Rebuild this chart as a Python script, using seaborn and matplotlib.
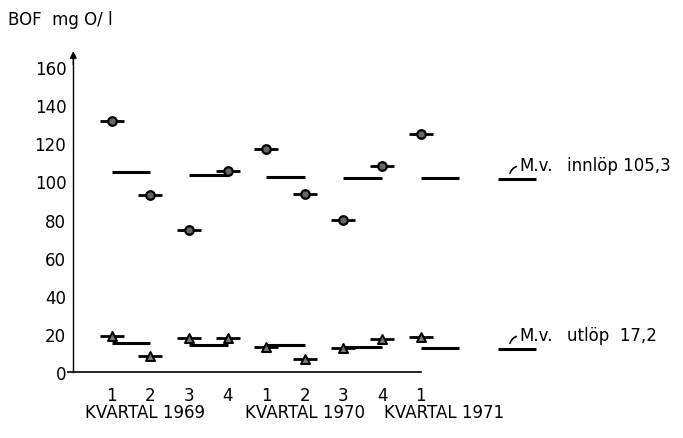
import matplotlib
matplotlib.use("Agg")
import matplotlib.pyplot as plt
import seaborn as sns
import pandas as pd

# quarter positions and labels
quarters = [1, 2, 3, 4, 5, 6, 7, 8, 9]
quarter_labels = ["1", "2", "3", "4", "1", "2", "3", "4", "1"]
year_labels = ["KVARTAL 1969", "KVARTAL 1970", "KVARTAL 1971"]
year_label_x = [0.3, 4.45, 8.05]

# BOF values per quarter (mg O/l)
inflow = [132, 93, 74.5, 105.5, 117, 93.5, 79.5, 108, 125]
outflow = [19, 8.5, 18, 18, 13, 6.5, 12.5, 17, 18.5]

# half-year mean segments (start quarter, value)
mean_start = [1, 3, 5, 7, 9]
inflow_mean = [104.8, 103.5, 102.5, 102.0, 101.7]
outflow_mean = [15.0, 14.2, 13.9, 13.1, 12.4]

# overall mean labels
legend_x = 11
inflow_legend_y = 101.3
outflow_legend_y = 12.0
inflow_text = "innlöp 105,3"
outflow_text = "utlöp  17,2"

df = pd.DataFrame({"q": quarters, "inflow": inflow, "outflow": outflow})

sns.set_style("white")
plt.rcParams["font.family"] = ["DejaVu Sans"]
plt.rcParams["font.size"] = 12
for key in ["text.color", "xtick.color", "ytick.color", "axes.labelcolor", "axes.edgecolor"]:
    plt.rcParams[key] = "black"

fig = plt.figure(figsize=(6.83, 4.39), dpi=100)
ax = fig.add_axes([0, 0, 1, 1])
ax.set_xlim(-1.9, 15.8)
ax.set_ylim(-34.8, 195.9)
ax.patch.set_alpha(0)

# mean segments
ax.hlines(inflow_mean, mean_start, [s + 1 for s in mean_start], color="black", lw=2.2)
ax.hlines(outflow_mean, mean_start, [s + 1 for s in mean_start], color="black", lw=2.2)
ax.hlines([inflow_legend_y, outflow_legend_y], legend_x, legend_x + 1, color="black", lw=2.2)

# dashes through markers
sns.scatterplot(data=df, x="q", y="inflow", marker="_", s=300, linewidth=2, color="black", ax=ax)
sns.scatterplot(data=df, x="q", y="outflow", marker="_", s=300, linewidth=2, color="black", ax=ax)
sns.scatterplot(data=df, x="q", y="inflow", marker="o", s=38, color="#666666",
                edgecolor="black", linewidth=1.6, ax=ax, zorder=3)
sns.scatterplot(data=df, x="q", y="outflow", marker="^", s=42, color="#777777",
                edgecolor="black", linewidth=1.4, ax=ax, zorder=3)

# axes styling
for side in ["top", "right"]:
    ax.spines[side].set_visible(False)
ax.spines["left"].set_position(("data", 0))
ax.spines["bottom"].set_position(("data", 0))
ax.spines["left"].set_bounds(0, 166)
ax.spines["bottom"].set_bounds(-0.15, 9)
ax.spines["left"].set_linewidth(1.0)
ax.spines["bottom"].set_linewidth(1.2)
ax.annotate("", xy=(0, 170), xytext=(0, 160),
            arrowprops=dict(arrowstyle="-|>", color="black", lw=1.0, mutation_scale=10))

ax.set_yticks(range(0, 161, 20))
ax.set_yticklabels([str(v) for v in range(0, 161, 20)])
ax.set_xticks(quarters)
ax.set_xticklabels(quarter_labels)
ax.tick_params(axis="y", direction="out", length=4, width=1, pad=1, labelsize=12)
ax.tick_params(axis="x", direction="out", length=5, width=1, pad=5, labelsize=12)
ax.set_xlabel("")
ax.set_ylabel("")

for label, x in zip(year_labels, year_label_x):
    ax.text(x, -21, label, fontsize=12, ha="left", va="center")

fig.text(0.012, 0.955, "BOF  mg O/ l", fontsize=12, ha="left", va="center")

# mean labels with hook
for y, txt in [(inflow_legend_y, inflow_text), (outflow_legend_y, outflow_text)]:
    ax.annotate("", xy=(legend_x + 0.3, y + 1.5), xytext=(legend_x + 0.55, y + 7),
                arrowprops=dict(arrowstyle="-", color="black", lw=1.2,
                                connectionstyle="arc3,rad=0.35"))
    ax.text(legend_x + 0.55, y + 7.5, "M.v.", fontsize=12, ha="left", va="center")
    ax.text(legend_x + 1.8, y + 7.5, txt, fontsize=12, ha="left", va="center")

fig.savefig("out.png", dpi=100)
